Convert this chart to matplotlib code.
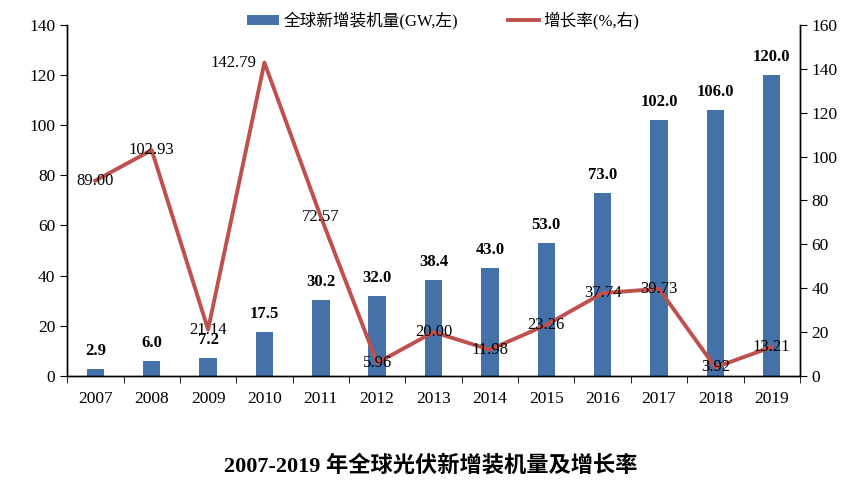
import matplotlib
matplotlib.use("Agg")
import matplotlib.pyplot as plt
import numpy as np
from matplotlib.ticker import MultipleLocator, FixedLocator

plt.rcParams['font.family'] = ['Liberation Serif', 'Noto Sans CJK SC']

years = ['2007', '2008', '2009', '2010', '2011', '2012', '2013',
         '2014', '2015', '2016', '2017', '2018', '2019']
capacity = [2.9, 6.0, 7.2, 17.5, 30.2, 32.0, 38.4, 43.0, 53.0, 73.0, 102.0, 106.0, 120.0]
growth = [89.00, 102.93, 21.14, 142.79, 72.57, 5.96, 20.00, 11.98, 23.26, 37.74, 39.73, 3.92, 13.21]

bar_color = '#4472a8'
line_color = '#c0504d'

fig = plt.figure(figsize=(8.61, 4.87), dpi=100)
ax = fig.add_axes([0.078, 0.228, 0.851, 0.721])
ax2 = ax.twinx()

x = np.arange(len(years))
bars = ax.bar(x, capacity, width=0.31, color=bar_color, zorder=2,
              label='全球新增装机量(GW,左)')
for xi, v in zip(x, capacity):
    ax.annotate(f'{v:.1f}', (xi, v), xytext=(0, 7), textcoords='offset points',
                ha='center', va='bottom', fontsize=12, fontweight='bold')

line, = ax2.plot(x, growth, color=line_color, lw=2.8, zorder=3,
                 label='增长率(%,右)')
for i, (xi, v) in enumerate(zip(x, growth)):
    dx = -22 if i == 3 else 0
    ax2.annotate(f'{v:.2f}', (xi, v), xytext=(dx, 0), textcoords='offset points',
                 ha='center', va='center', fontsize=12)

ax.set_xlim(-0.5, len(years) - 0.5)
ax.set_ylim(0, 140)
ax2.set_ylim(0, 160)
ax.yaxis.set_major_locator(MultipleLocator(20))
ax2.yaxis.set_major_locator(MultipleLocator(20))

ax.set_xticks(x)
ax.set_xticklabels(years, fontsize=12.5)
ax.tick_params(axis='x', which='major', length=0, pad=11)
ax.xaxis.set_minor_locator(FixedLocator(np.arange(-0.5, len(years), 1.0)))
ax.tick_params(axis='x', which='minor', length=5, direction='out')
ax.tick_params(axis='y', labelsize=12.5, length=5, direction='out')
ax2.tick_params(axis='y', labelsize=12.5, length=5, direction='out')

for a in (ax, ax2):
    a.spines['top'].set_visible(False)
    for s in ('left', 'right', 'bottom'):
        a.spines[s].set_linewidth(1.0)
        a.spines[s].set_color('black')

fig.legend(handles=[bars, line], labels=['全球新增装机量(GW,左)', '增长率(%,右)'],
           loc='center', bbox_to_anchor=(0.515, 0.958), ncol=2, frameon=False,
           fontsize=12, handlelength=1.9, handleheight=0.55, columnspacing=3.0,
           handletextpad=0.25)

fig.text(0.5, 0.043, '2007-2019 年全球光伏新增装机量及增长率', ha='center', va='center',
         fontsize=16, fontweight='bold')

fig.savefig('out.png', dpi=100)
